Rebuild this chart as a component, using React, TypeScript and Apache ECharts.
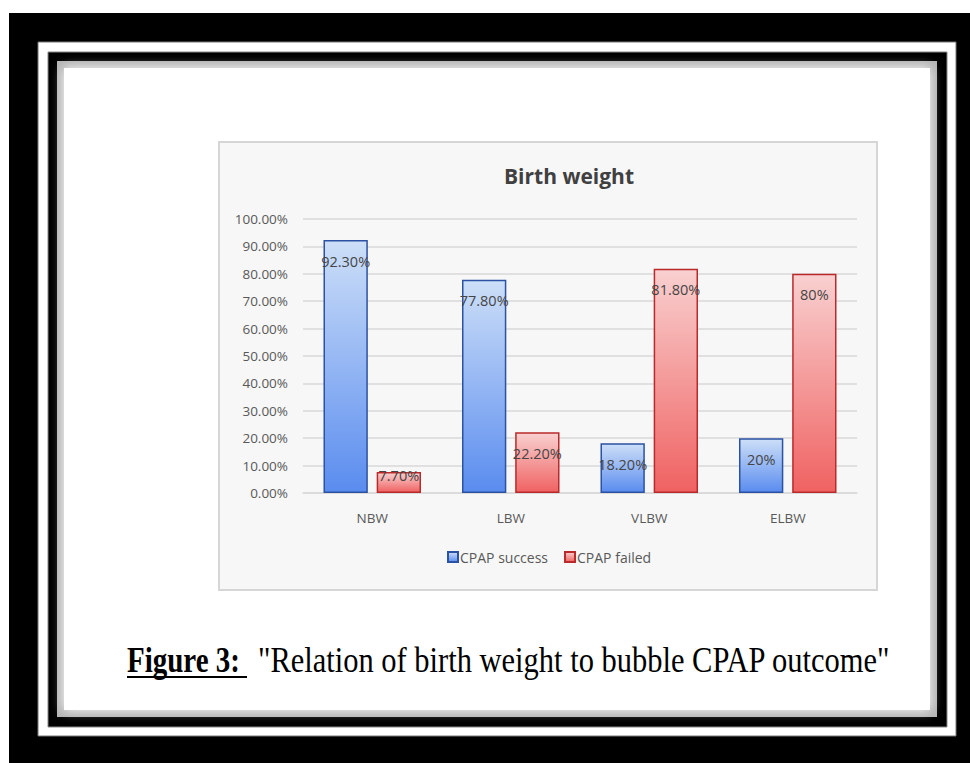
import React, { useEffect, useRef } from "react";
import * as echarts from "echarts";

const categories = ["NBW", "LBW", "VLBW", "ELBW"];
const successValues = [92.3, 77.8, 18.2, 20];
const failedValues = [7.7, 22.2, 81.8, 80];
const successLabels = ["92.30%", "77.80%", "18.20%", "20%"];
const failedLabels = ["7.70%", "22.20%", "81.80%", "80%"];
const seriesNames = ["CPAP success", "CPAP failed"];
const chartTitle = "Birth weight";
const captionBold = "Figure 3:";
const captionRest = "\"Relation of birth weight to bubble CPAP outcome\"";

const FONT = "'Open Sans', 'Noto Sans', sans-serif";

export default function App() {
  const ref = useRef<HTMLDivElement>(null);
  useEffect(() => {
    if (!ref.current) return;
    const chart = echarts.init(ref.current, undefined, { renderer: "svg" });
    const blueGrad = new echarts.graphic.LinearGradient(0, 0, 0, 1, [
      { offset: 0, color: "#cddff8" },
      { offset: 1, color: "#5a8cef" },
    ]);
    const redGrad = new echarts.graphic.LinearGradient(0, 0, 0, 1, [
      { offset: 0, color: "#f9d0d0" },
      { offset: 1, color: "#f06262" },
    ]);
    const labelFor = (labels: string[]) => (p: any) => labels[p.dataIndex];
    const mkData = (vals: number[]) =>
      vals.map((v) => ({
        value: v,
        label: { position: ["50%", v < 10 ? 4 : 21] as any },
      }));
    const dataLabel = (labels: string[]) => ({
      show: true,
      formatter: labelFor(labels),
      align: "center",
      verticalAlign: "middle",
      fontFamily: FONT,
      fontSize: 14.5,
      color: "#454545",
    });
    chart.setOption({
      animation: false,
      backgroundColor: "#ffffff",
      title: {
        text: chartTitle,
        left: 499,
        top: 160,
        textStyle: { fontFamily: FONT, fontSize: 21, fontWeight: "bold", color: "#404040" },
      },
      legend: {
        top: 545,
        left: 442,
        itemWidth: 10,
        itemHeight: 10,
        itemGap: 16,
        icon: "rect",
        textStyle: { fontFamily: FONT, fontSize: 14, color: "#595959", padding: [0, 0, 0, -3] },
        data: seriesNames,
      },
      grid: { left: 303, right: 113, top: 219, bottom: 270 },
      xAxis: {
        type: "category",
        data: categories,
        axisTick: { show: false },
        axisLine: { lineStyle: { color: "#d9d9d9", width: 1.5 } },
        axisLabel: { fontFamily: FONT, fontSize: 13.5, color: "#595959", margin: 18 },
      },
      yAxis: {
        type: "value",
        min: 0,
        max: 100,
        interval: 10,
        axisLine: { show: false },
        axisTick: { show: false },
        splitLine: { lineStyle: { color: "#d9d9d9", width: 1.5 } },
        axisLabel: {
          fontFamily: FONT,
          fontSize: 13.5,
          color: "#595959",
          margin: 15,
          formatter: (v: number) => v.toFixed(2) + "%",
        },
      },
      series: [
        {
          name: seriesNames[0],
          type: "bar",
          data: mkData(successValues),
          barWidth: "32%",
          barGap: "20%",
          itemStyle: { color: blueGrad, borderColor: "#2b52a3", borderWidth: 1.5 },
          label: dataLabel(successLabels),
        },
        {
          name: seriesNames[1],
          type: "bar",
          data: mkData(failedValues),
          barWidth: "32%",
          barGap: "20%",
          itemStyle: { color: redGrad, borderColor: "#bb2a2a", borderWidth: 1.5 },
          label: dataLabel(failedLabels),
        },
      ],
      graphic: [
        { type: "rect", z: -20, shape: { x: 9, y: 13, width: 961, height: 750 }, style: { fill: "#000" } },
        { type: "rect", z: -19, shape: { x: 38, y: 42, width: 918, height: 694 }, style: { fill: "#fff", stroke: "#777", lineWidth: 1 } },
        { type: "rect", z: -18, shape: { x: 48, y: 52, width: 899, height: 675 }, style: { fill: "#000", stroke: "#888", lineWidth: 1 } },
        { type: "rect", z: -17, shape: { x: 57, y: 61, width: 880, height: 656 }, style: { fill: "#b4b4b4" } },
        {
          type: "rect",
          z: -16,
          shape: { x: 64, y: 68, width: 866, height: 642 },
          style: { fill: "#fff", shadowBlur: 12, shadowColor: "#ffffff" },
        },
        {
          type: "rect",
          z: -15,
          shape: { x: 219, y: 142, width: 658, height: 448 },
          style: { fill: "#f7f7f7", stroke: "#d6d6d6", lineWidth: 2 },
        },
        {
          type: "text",
          z: -14,
          x: 127,
          y: 660,
          scaleY: 1.2,
          style: {
            text: captionBold,
            fontFamily: "'Liberation Serif', serif",
            fontSize: 29,
            fontWeight: "bold",
            fill: "#000",
            verticalAlign: "middle",
          },
        },
        { type: "line", z: -14, shape: { x1: 127, y1: 677, x2: 247, y2: 677 }, style: { stroke: "#000", lineWidth: 2 } },
        {
          type: "text",
          z: -14,
          x: 258,
          y: 660,
          scaleY: 1.2,
          style: {
            text: captionRest,
            fontFamily: "'Liberation Serif', serif",
            fontSize: 30.5,
            fill: "#000",
            verticalAlign: "middle",
          },
        },
      ],
    });
    return () => chart.dispose();
  }, []);
  return <div ref={ref} style={{ position: "fixed", left: 0, top: 0, width: 970, height: 763 }} />;
}
